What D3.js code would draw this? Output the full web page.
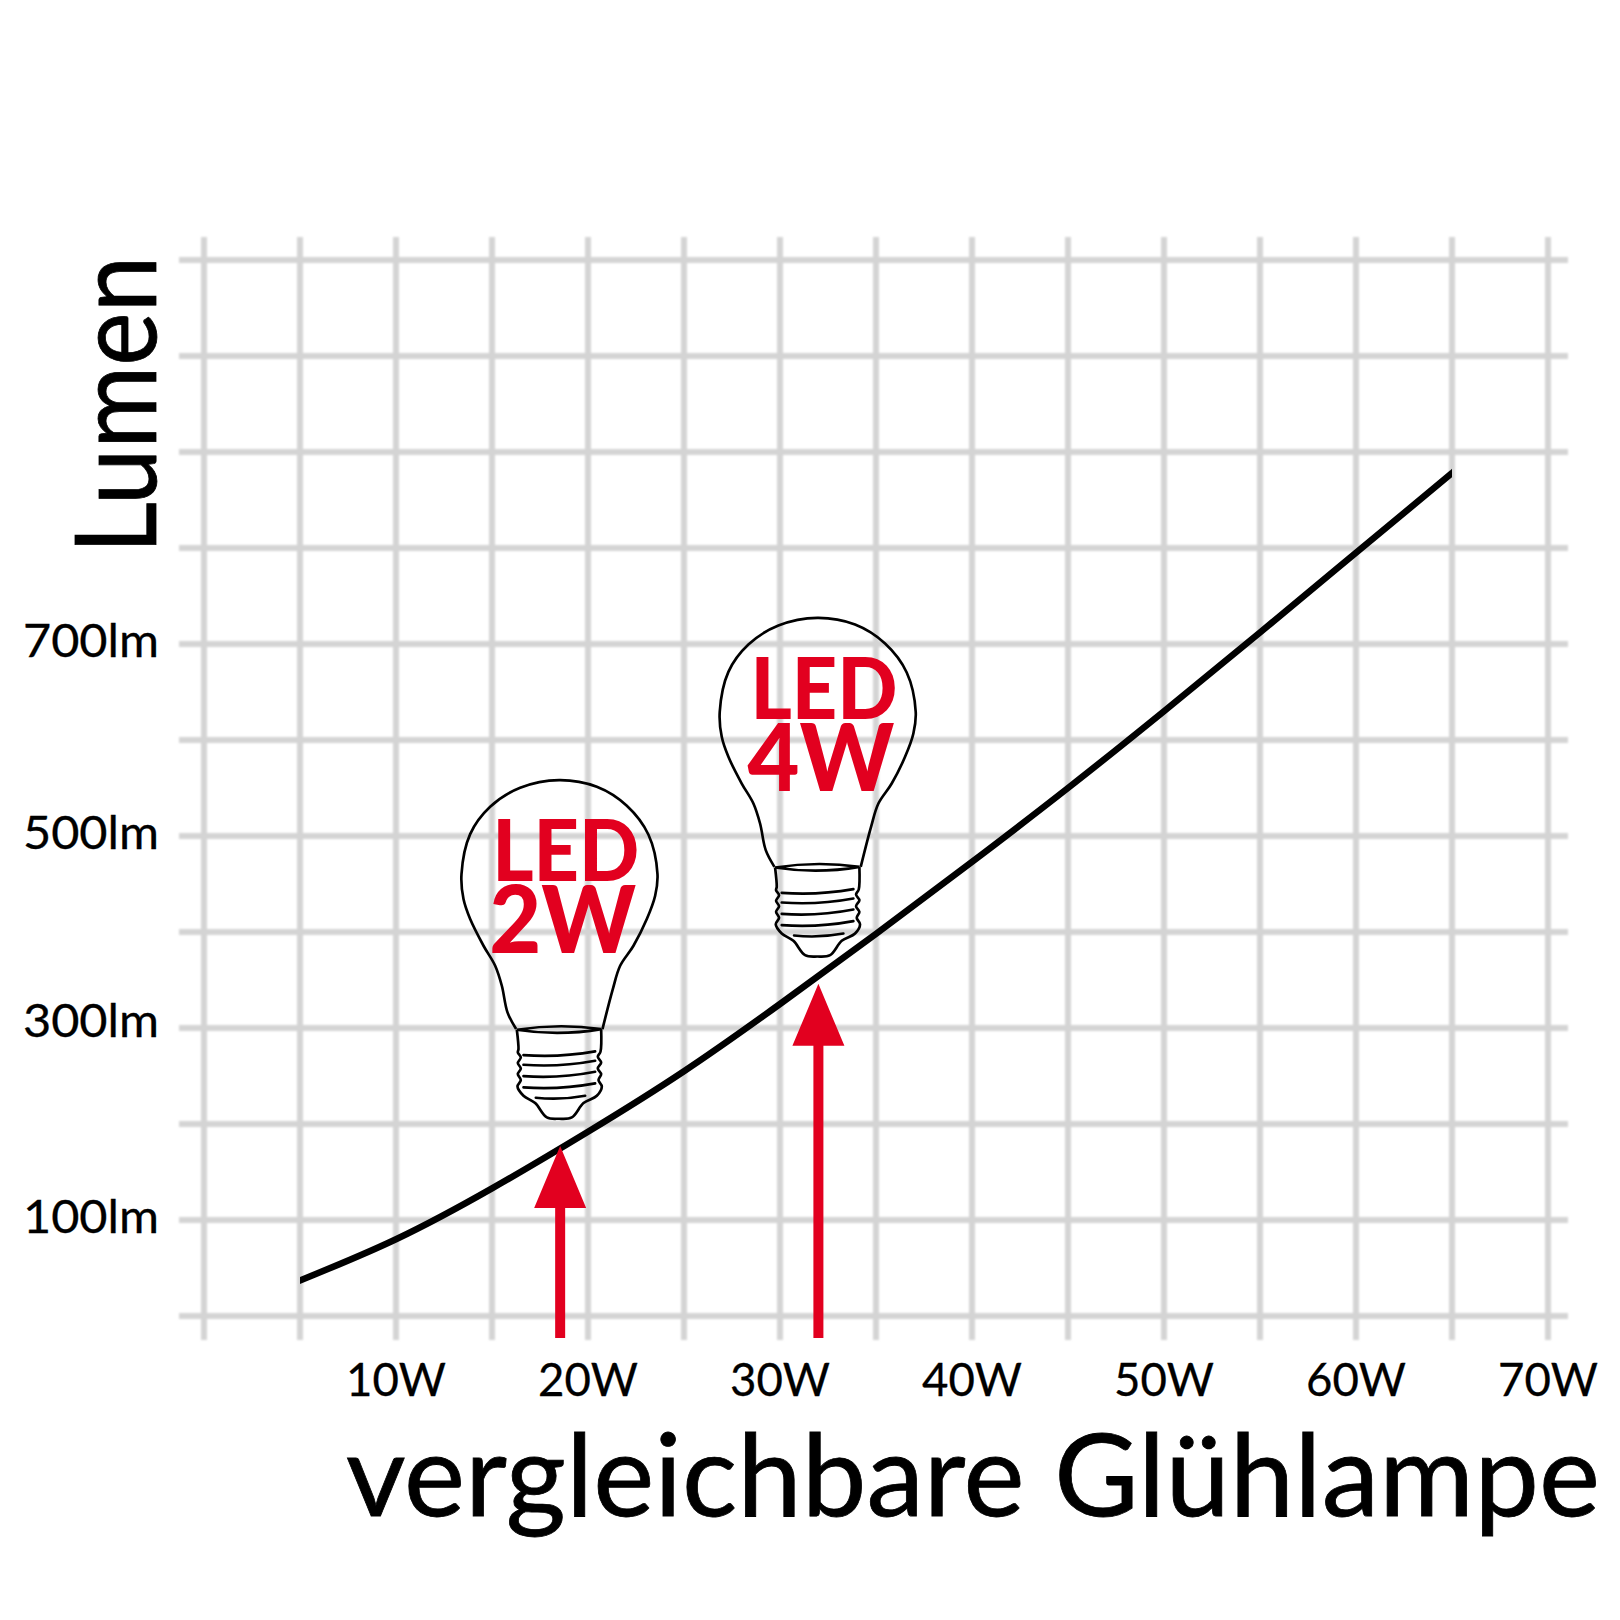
<!DOCTYPE html>
<html>
<head>
<meta charset="utf-8">
<script src="https://cdn.jsdelivr.net/npm/d3@7"></script>
<style>
	html, body { margin: 0; background: #fff; }
	text { font-family: Lato, "Open Sans", sans-serif; fill: #000; }
</style>
</head>
<body>
<div id="chart"></div>
<script>
// comparable incandescent wattage vs. lumen
var watts = [5, 10, 15, 20, 25, 30, 35, 40, 45, 50, 55, 60, 65];
var lumen = [37, 80, 133, 192, 255, 325, 398, 473, 550, 630, 712, 795, 878];

var wattGrid = [0, 5, 10, 15, 20, 25, 30, 35, 40, 45, 50, 55, 60, 65, 70];
var wattLabels = [10, 20, 30, 40, 50, 60, 70];
var lumenGrid = [0, 100, 200, 300, 400, 500, 600, 700, 800, 900, 1000, 1100];
var lumenLabels = [100, 300, 500, 700];

var ledNames = ['2W', '4W'];
var ledWatts = [18.55, 32];
var ledLumen = [177, 346];

// lamp drawing, in its own units (3 units = 1px), origin top left of the socket
var glassOutline = [[48, 90], [22, 40], [5, -40], [-15, -100], [-50, -160], [-90, -240], [-110, -300], [-116, -375],
	[-90, -495], [-30, -577], [60, -634], [177, -657], [290, -637], [380, -580], [445, -493], [472, -375],
	[465, -310], [440, -240], [400, -160], [360, -100], [338, -30], [307, 90]];
var socketOutline = [[50, 92], [55, 150], [53, 160], [62, 175], [53, 192], [62, 208], [53, 225], [62, 243], [52, 262],
	[70, 290], [105, 312], [140, 355], [177, 359], [215, 355], [250, 312], [290, 290], [305, 262], [295, 243],
	[303, 225], [293, 208], [303, 190], [293, 173], [301, 158], [303, 90]];
var threads = [[70, 168, 285, 157], [70, 197, 285, 185], [70, 231, 285, 218], [70, 265, 285, 253], [107, 296, 255, 290]];

var RED = '#e2001f';
var GRID = '#d4d4d4';

var svg = d3.select('#chart').append('svg')
	.attr('width', 1620)
	.attr('height', 1620)
	.style('display', 'block');

// userSpaceOnUse, a straight line has an empty bounding box
svg.append('filter').attr('id', 'soft')
	.attr('filterUnits', 'userSpaceOnUse')
	.attr('x', -1700).attr('y', -1700).attr('width', 3400).attr('height', 3400)
	.append('feGaussianBlur').attr('stdDeviation', 1);

var x = d3.scaleLinear().domain([0, 70]).range([204, 1548]);
var y = d3.scaleLinear().domain([0, 1100]).range([1316, 260]);

var gridTop = 237, gridBottom = 1340, gridLeft = 179, gridRight = 1568;

// vertical grid + W labels
var xAxis = d3.axisBottom(x)
	.tickValues(wattGrid)
	.tickSize(-(gridBottom - gridTop))
	.tickPadding(0)
	.offset(0)
	.tickFormat(function (d) { return wattLabels.indexOf(d) >= 0 ? d + 'W' : ''; });

var xG = svg.append('g').attr('transform', 'translate(0,' + gridBottom + ')').call(xAxis);
xG.select('.domain').remove();
xG.selectAll('line').attr('stroke', GRID).attr('stroke-width', 6).attr('filter', 'url(#soft)');
xG.selectAll('text')
	.attr('y', 56)
	.attr('dy', 0)
	.attr('textLength', 100)
	.attr('lengthAdjust', 'spacingAndGlyphs')
	.style('font-size', '46px')
	.style('stroke', '#000')
	.style('stroke-width', 0.3);

// horizontal grid + lm labels
var yAxis = d3.axisLeft(y)
	.tickValues(lumenGrid)
	.tickSize(-(gridRight - gridLeft))
	.tickPadding(0)
	.offset(0)
	.tickFormat(function (d) { return lumenLabels.indexOf(d) >= 0 ? d + 'lm' : ''; });

var yG = svg.append('g').attr('transform', 'translate(' + gridLeft + ',0)').call(yAxis);
yG.select('.domain').remove();
yG.selectAll('line').attr('stroke', GRID).attr('stroke-width', 6).attr('filter', 'url(#soft)');
yG.selectAll('text')
	.attr('x', -20)
	.attr('dy', function (d) { return d === 300 ? 9 : 13; }) // 300lm sits a bit higher in the original
	.attr('textLength', 136)
	.attr('lengthAdjust', 'spacingAndGlyphs')
	.style('font-size', '46px')
	.style('stroke', '#000')
	.style('stroke-width', 0.3);

// axis titles
svg.append('text')
	.attr('x', 346)
	.attr('y', 1516)
	.attr('textLength', 1254)
	.attr('lengthAdjust', 'spacingAndGlyphs')
	.style('font-size', '115px')
	.style('stroke', '#000')
	.style('stroke-width', 0.8)
	.text('vergleichbare Glühlampe');

svg.append('text')
	.attr('transform', 'translate(156,554) rotate(-90)')
	.attr('textLength', 298)
	.attr('lengthAdjust', 'spacingAndGlyphs')
	.style('font-size', '112px')
	.style('stroke', '#000')
	.style('stroke-width', 0.8)
	.text('Lumen');

// the curve, its ends cut straight on the 5W and 65W grid lines
svg.append('clipPath').attr('id', 'curveClip')
	.append('rect')
	.attr('x', x(5))
	.attr('y', gridTop)
	.attr('width', x(65) - x(5))
	.attr('height', gridBottom - gridTop);

var line = d3.line()
	.x(function (d) { return x(d[0]); })
	.y(function (d) { return y(d[1]); })
	.curve(d3.curveNatural);

svg.append('path')
	.attr('d', line(d3.zip(watts, lumen)))
	.attr('fill', 'none')
	.attr('stroke', '#000')
	.attr('stroke-width', 6.5)
	.attr('stroke-linecap', 'square')
	.attr('clip-path', 'url(#curveClip)');

// lamps and arrows
var glassLine = d3.line().curve(d3.curveCatmullRom);
var socketLine = d3.line().curve(d3.curveCatmullRom.alpha(0.5));

ledNames.forEach(function (name, i) {
	var tipX = x(ledWatts[i]);
	var tipY = y(ledLumen[i]);

	var arrow = d3.path();
	arrow.moveTo(tipX, tipY);
	arrow.lineTo(tipX + 26, tipY + 62);
	arrow.lineTo(tipX + 5, tipY + 62);
	arrow.lineTo(tipX + 5, 1338);
	arrow.lineTo(tipX - 5, 1338);
	arrow.lineTo(tipX - 5, tipY + 62);
	arrow.lineTo(tipX - 26, tipY + 62);
	arrow.closePath();
	svg.append('path').attr('d', arrow.toString()).attr('fill', RED);

	var lamp = svg.append('g')
		.attr('transform', 'translate(' + (tipX - 60) + ',' + (tipY - 147) + ') scale(0.3333)')
		.attr('fill', 'none')
		.attr('stroke', '#000')
		.attr('stroke-width', 8);

	lamp.append('path').attr('d', glassLine(glassOutline));
	lamp.append('path').attr('d', socketLine(socketOutline));
	lamp.append('path').attr('d', 'M50,92Q177,72 303,90Q177,112 50,92Z');
	threads.forEach(function (t) {
		lamp.append('path')
			.attr('d', 'M' + t[0] + ',' + t[1] + 'Q' + ((t[0] + t[2]) / 2) + ',' + (t[1] + 8) + ' ' + t[2] + ',' + t[3])
			.attr('stroke-linecap', 'round');
	});

	var label = svg.append('text')
		.style('font-weight', 900)
		.style('fill', RED);

	label.append('tspan')
		.attr('x', tipX - 68)
		.attr('y', tipY - 265)
		.attr('textLength', 147)
		.attr('lengthAdjust', 'spacingAndGlyphs')
		.style('font-size', '86px')
		.text('LED');

	label.append('tspan')
		.attr('x', tipX - 71)
		.attr('y', tipY - 193)
		.attr('textLength', 147)
		.attr('lengthAdjust', 'spacingAndGlyphs')
		.style('font-size', '93px')
		.text(name);
});
</script>
</body>
</html>
